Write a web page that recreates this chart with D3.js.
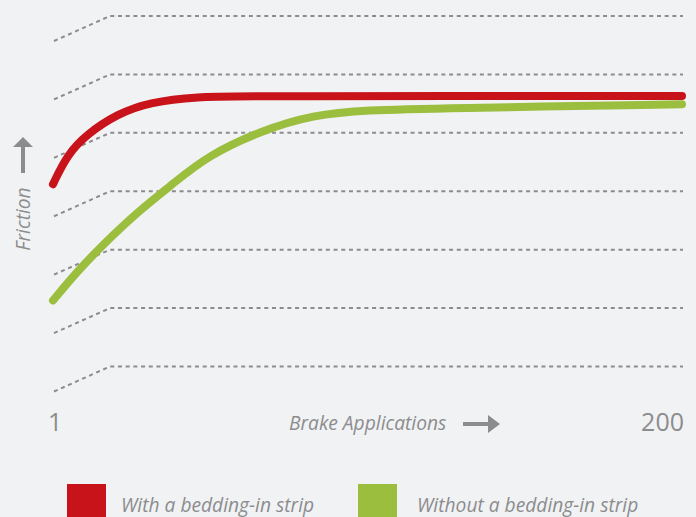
<!DOCTYPE html>
<html>
<head>
<meta charset="utf-8">
<script src="https://cdn.jsdelivr.net/npm/d3@7"></script>
<style>
  body { margin: 0; background: #f1f2f4; }
  text { font-family: "Open Sans", sans-serif; fill: #8c8c8e; }
</style>
</head>
<body>
<script>
// friction curves (x = brake applications, y = friction level)
var withStripApps    = [1, 5.4, 11.8, 21.2, 31.6, 47.5, 59.2, 200];
var withStripValues  = [3.12, 3.62, 3.98, 4.32, 4.53, 4.62, 4.63, 4.63];
var withoutStripApps   = [1, 8.5, 18, 28.5, 39, 49.7, 66.5, 83.3, 100.4, 123.4, 200];
var withoutStripValues = [1.13, 1.62, 2.15, 2.68, 3.13, 3.6, 4.03, 4.31, 4.39, 4.42, 4.49];
var gridValues = [0, 1, 2, 3, 4, 5, 6];
var xTickLabels = ["1", "200"];
var seriesNames = ["With a bedding-in strip", "Without a bedding-in strip"];
var seriesColors = ["#c8131b", "#9bbe3f"];

var width = 696, height = 517;
var svg = d3.select("body").append("svg")
  .attr("width", width)
  .attr("height", height);

var x = d3.scaleLinear().domain([1, 200]).range([53, 682]);
var y = d3.scaleLinear().domain([0, 6]).range([366.5, 16]);

// perspective gridlines: a short slanted piece then the flat dashed line
var slantW = 57, slantH = 25;
svg.append("g").selectAll("path")
  .data(gridValues)
  .enter().append("path")
  .attr("d", function(v) {
    return "M" + (x(1) + 1) + "," + (y(v) + slantH) +
      "L" + (x(1) + slantW) + "," + y(v) + "H" + (x(200) + 1);
  })
  .attr("fill", "none")
  .attr("stroke", "#8c8c8e")
  .attr("stroke-width", 2)
  .attr("stroke-dasharray", "4,3.7");

var line = d3.line()
  .x(function(d) { return x(d[0]); })
  .y(function(d) { return y(d[1]); })
  .curve(d3.curveBasis);

var series = [d3.zip(withStripApps, withStripValues), d3.zip(withoutStripApps, withoutStripValues)];

svg.append("g").selectAll("path")
  .data(series.slice().reverse())
  .enter().append("path")
  .attr("d", line)
  .attr("fill", "none")
  .attr("stroke", function(d, i) { return seriesColors[1 - i]; })
  .attr("stroke-width", 8)
  .attr("stroke-linecap", "round");

// x ends
svg.append("text").attr("x", x(1) - 5).attr("y", 431)
  .style("font-size", "25px").text(xTickLabels[0]);
svg.append("text").attr("x", x(200) + 2).attr("y", 431)
  .attr("text-anchor", "end")
  .style("font-size", "25px").text(xTickLabels[1]);

// axis titles
svg.append("text").attr("x", 289).attr("y", 430)
  .style("font-size", "19.2px").style("font-style", "italic")
  .text("Brake Applications");
svg.append("path")
  .attr("d", "M463,422H488V415L500,424L488,433V426H463Z")
  .attr("fill", "#8c8c8e");

svg.append("text")
  .attr("transform", "translate(30,219) rotate(-90)")
  .attr("text-anchor", "middle")
  .style("font-size", "19.2px").style("font-style", "italic")
  .text("Friction");
svg.append("path")
  .attr("d", "M21,173V147H13L23,137L33,147H25V173Z")
  .attr("fill", "#8c8c8e");

// legend
var legendX = [67, 358];
var leg = svg.append("g").selectAll("g")
  .data(seriesNames)
  .enter().append("g")
  .attr("transform", function(d, i) { return "translate(" + legendX[i] + ",484)"; });
leg.append("rect")
  .attr("width", 39).attr("height", 39)
  .attr("fill", function(d, i) { return seriesColors[i]; });
leg.append("text")
  .attr("x", function(d, i) { return i == 0 ? 54 : 59; })
  .attr("y", 28)
  .style("font-size", "19.2px").style("font-style", "italic")
  .text(function(d) { return d; });
</script>
</body>
</html>
